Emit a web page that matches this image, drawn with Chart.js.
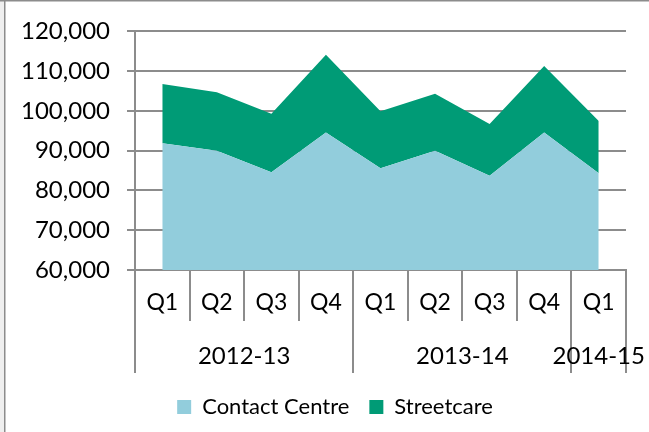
<!DOCTYPE html>
<html>
<head>
<meta charset="utf-8">
<script src="https://cdn.jsdelivr.net/npm/chart.js@4"></script>
<style>
    body { margin: 0; background: #ffffff; }
</style>
</head>
<body>
<canvas id="calls-chart" width="649" height="432"></canvas>
<script>
// Quarterly contact volumes
const quarters = ['Q1', 'Q2', 'Q3', 'Q4', 'Q1', 'Q2', 'Q3', 'Q4', 'Q1'];
const years = ['2012-13', '2013-14', '2014-15'];
const quartersPerYear = [4, 4, 1];
const contactCentre = [91900, 90000, 84600, 94600, 85600, 90000, 83700, 94600, 84300];
const streetcare = [14900, 14700, 14700, 19500, 14300, 14300, 13000, 16700, 13200];

const FONT = 'Lato, "Open Sans", sans-serif';
const GRID = '#8c8c8c';

/**
 * Frame round the chart (only left and top edges show in the original)
 */
const framePlugin = {
    id: 'frame',
    afterLayout(chart) {
        // Excel centres the legend a little to the right of ours
        chart.legend.left += 22;
        chart.legend.right += 22;
    },
    beforeDraw(chart) {
        const ctx = chart.ctx;
        ctx.save();
        ctx.fillStyle = '#ffffff';
        ctx.fillRect(0, 0, chart.width, chart.height);
        ctx.fillStyle = '#efefef';
        ctx.fillRect(0, 0, 4, chart.height);
        ctx.strokeStyle = GRID;
        ctx.lineWidth = 1.5;
        ctx.beginPath();
        ctx.moveTo(4.75, 0);
        ctx.lineTo(4.75, chart.height);
        ctx.moveTo(0, 0.75);
        ctx.lineTo(chart.width, 0.75);
        ctx.stroke();
        ctx.restore();
    }
};

/**
 * Two-level category axis: quarters, then financial years
 */
const yearAxisPlugin = {
    id: 'yearAxis',
    afterDraw(chart) {
        const ctx = chart.ctx;
        const xs = chart.scales.x;
        const base = chart.chartArea.bottom;
        const half = (xs.getPixelForValue(1) - xs.getPixelForValue(0)) / 2;
        const edge = i => xs.getPixelForValue(i) - half;

        // where one year ends and the next begins
        const groupEdges = [0];
        quartersPerYear.forEach(n => groupEdges.push(groupEdges[groupEdges.length - 1] + n));

        ctx.save();
        ctx.strokeStyle = GRID;
        ctx.lineWidth = 2;
        ctx.beginPath();
        for (let i = 0; i <= quarters.length; i++) {
            const x = Math.round(edge(i));
            const len = groupEdges.includes(i) ? 103 : 51;
            ctx.moveTo(x, base);
            ctx.lineTo(x, base + len);
        }
        ctx.stroke();

        ctx.fillStyle = '#000000';
        ctx.font = '23px ' + FONT;
        ctx.textAlign = 'center';
        ctx.textBaseline = 'middle';
        quarters.forEach((q, i) => {
            ctx.fillText(q, xs.getPixelForValue(i), base + 33);
        });

        ctx.font = '24px ' + FONT;
        years.forEach((y, g) => {
            const mid = (edge(groupEdges[g]) + edge(groupEdges[g + 1])) / 2;
            ctx.fillText(y, mid, base + 86);
        });
        ctx.restore();
    }
};

const ctx = document.getElementById('calls-chart').getContext('2d');

new Chart(ctx, {
    type: 'line',
    data: {
        labels: quarters,
        datasets: [
            {
                label: 'Contact Centre',
                data: contactCentre,
                backgroundColor: '#92cddc',
                borderColor: '#92cddc',
                borderWidth: 0,
                fill: 'origin',
                pointRadius: 0,
                tension: 0
            },
            {
                label: 'Streetcare',
                data: streetcare,
                backgroundColor: '#009b76',
                borderColor: '#009b76',
                borderWidth: 0,
                fill: '-1',
                pointRadius: 0,
                tension: 0
            }
        ]
    },
    options: {
        responsive: false,
        animation: false,
        layout: {
            padding: { top: 30, right: 23, bottom: 4, left: 0 }
        },
        plugins: {
            legend: {
                position: 'bottom',
                labels: {
                    color: '#000000',
                    font: { family: FONT, size: 22 },
                    boxWidth: 14,
                    boxHeight: 14,
                    padding: 20
                }
            },
            tooltip: { enabled: false }
        },
        scales: {
            x: {
                offset: true,
                ticks: { display: false },
                grid: { display: false },
                border: { display: true, color: GRID, width: 2 },
                afterFit: scale => { scale.height = 106; }
            },
            y: {
                stacked: true,
                min: 60000,
                max: 120000,
                ticks: {
                    stepSize: 10000,
                    color: '#000000',
                    padding: 17,
                    font: { family: FONT, size: 24 },
                    callback: value => value.toLocaleString('en-US')
                },
                grid: {
                    color: GRID,
                    lineWidth: 2,
                    tickLength: 8
                },
                border: { color: GRID, width: 2 },
                afterFit: scale => { scale.width = 135; }
            }
        }
    },
    plugins: [framePlugin, yearAxisPlugin]
});
</script>
</body>
</html>
